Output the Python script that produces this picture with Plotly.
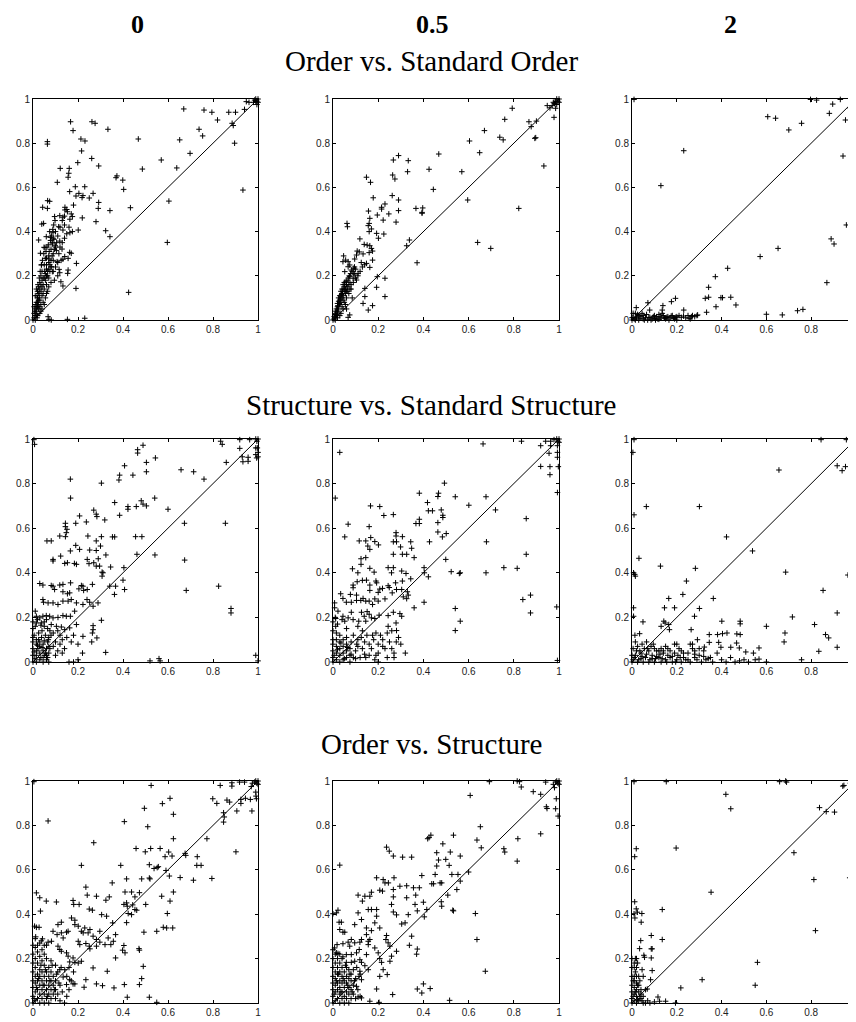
import plotly.graph_objects as go

COLUMN_LABELS = ["0", "0.5", "2"]
ROW_TITLES = ["Order vs. Standard Order", "Structure vs. Standard Structure", "Order vs. Structure"]
TICK_VALS = [0, 0.2, 0.4, 0.6, 0.8, 1]
TICK_TEXT = ["0", "0.2", "0.4", "0.6", "0.8", "1"]
DIAG = [0, 1]

# Row 1: Order vs. Standard Order
ORD_STD_0 = [
    (1.0, 1.0), (0.995, 0.99), (0.99, 1.0), (1.0, 0.985), (0.985, 0.995), (0.99, 0.99), (0.98, 0.985),
    (0.995, 0.975), (0.96, 0.985), (0.948, 0.988), (0.67, 0.955), (0.76, 0.95), (0.795, 0.94), (0.82, 0.905),
    (0.87, 0.94), (0.90, 0.94), (0.94, 0.953), (0.885, 0.89), (0.89, 0.88), (0.738, 0.863), (0.754, 0.833),
    (0.896, 0.80), (0.652, 0.815), (0.698, 0.754), (0.57, 0.724), (0.639, 0.688), (0.933, 0.588),
    (0.604, 0.538), (0.597, 0.351), (0.425, 0.125), (0.468, 0.819), (0.486, 0.683), (0.167, 0.897),
    (0.262, 0.897), (0.276, 0.89), (0.333, 0.863), (0.178, 0.857), (0.213, 0.819), (0.231, 0.81),
    (0.064, 0.807), (0.064, 0.796), (0.216, 0.765), (0.261, 0.731), (0.199, 0.712), (0.292, 0.697),
    (0.121, 0.686), (0.161, 0.686), (0.159, 0.664), (0.156, 0.646), (0.373, 0.652), (0.369, 0.644),
    (0.399, 0.633), (0.403, 0.591), (0.108, 0.623), (0.188, 0.603), (0.23, 0.603), (0.163, 0.581),
    (0.204, 0.573), (0.222, 0.563), (0.191, 0.561), (0.218, 0.554), (0.25, 0.552), (0.267, 0.573),
    (0.292, 0.532), (0.29, 0.505), (0.342, 0.495), (0.433, 0.508), (0.065, 0.54), (0.074, 0.537),
    (0.043, 0.51), (0.064, 0.505), (0.142, 0.51), (0.096, 0.468), (0.119, 0.472), (0.133, 0.465),
    (0.142, 0.498), (0.153, 0.49), (0.164, 0.456), (0.175, 0.468), (0.219, 0.462), (0.28, 0.445),
    (0.039, 0.434), (0.047, 0.437), (0.074, 0.40), (0.089, 0.395), (0.114, 0.422), (0.133, 0.407),
    (0.164, 0.395), (0.175, 0.40), (0.201, 0.407), (0.323, 0.404), (0.342, 0.377), (0.025, 0.362),
    (0.059, 0.377), (0.077, 0.374), (0.093, 0.365), (0.119, 0.357), (0.086, 0.344), (0.099, 0.336),
    (0.049, 0.329), (0.053, 0.327), (0.104, 0.314), (0.129, 0.321), (0.163, 0.306), (0.17, 0.302),
    (0.141, 0.287), (0.033, 0.302), (0.055, 0.279), (0.071, 0.276), (0.107, 0.264), (0.133, 0.275),
    (0.156, 0.279), (0.154, 0.211), (0.156, 0.226), (0.193, 0.256), (0.119, 0.214), (0.124, 0.173),
    (0.133, 0.154), (0.191, 0.143), (0.116, 0.229), (0.037, 0.249), (0.081, 0.241), (0.086, 0.219),
    (0.067, 0.015), (0.071, 0.003), (0.081, 0.0), (0.153, 0.003), (0.23, 0.008),
    (0.005, 0.01), (0.01, 0.02), (0.01, 0.05), (0.015, 0.08), (0.02, 0.10), (0.02, 0.13), (0.025, 0.15),
    (0.03, 0.12), (0.03, 0.17), (0.035, 0.20), (0.04, 0.18), (0.04, 0.22), (0.045, 0.16), (0.05, 0.19),
    (0.05, 0.25), (0.055, 0.21), (0.06, 0.23), (0.06, 0.28), (0.065, 0.20), (0.07, 0.26), (0.075, 0.22),
    (0.08, 0.17), (0.02, 0.06), (0.03, 0.09), (0.04, 0.11), (0.05, 0.14), (0.045, 0.12), (0.025, 0.05),
    (0.01, 0.0), (0.0, 0.0), (0.005, 0.03), (0.015, 0.04), (0.02, 0.02), (0.03, 0.03), (0.035, 0.07),
    (0.04, 0.05), (0.06, 0.16), (0.065, 0.13), (0.07, 0.19), (0.08, 0.24), (0.09, 0.27), (0.01, 0.11),
    (0.015, 0.14), (0.02, 0.08), (0.025, 0.12), (0.03, 0.14), (0.035, 0.16), (0.04, 0.15), (0.045, 0.19),
    (0.055, 0.18), (0.06, 0.20), (0.065, 0.22), (0.07, 0.23), (0.075, 0.25), (0.08, 0.27), (0.085, 0.29),
    (0.09, 0.30), (0.095, 0.32), (0.10, 0.33), (0.105, 0.35), (0.06, 0.25), (0.07, 0.29), (0.08, 0.32),
    (0.085, 0.35), (0.09, 0.37), (0.10, 0.40), (0.11, 0.38), (0.12, 0.42), (0.13, 0.45), (0.14, 0.47),
    (0.15, 0.50), (0.115, 0.30), (0.12, 0.33), (0.13, 0.35), (0.14, 0.37), (0.15, 0.39), (0.14, 0.43),
    (0.16, 0.42), (0.17, 0.48), (0.18, 0.52), (0.11, 0.26), (0.125, 0.27), (0.09, 0.22), (0.10, 0.24),
    (0.11, 0.20), (0.095, 0.18), (0.03, 0.06), (0.015, 0.02), (0.005, 0.06), (0.045, 0.08), (0.055, 0.10),
    (0.05, 0.07), (0.06, 0.12), (0.07, 0.15), (0.035, 0.04), (0.025, 0.09), (0.012, 0.03), (0.018, 0.01),
    (0.012, 0.07), (0.018, 0.11), (0.022, 0.16), (0.028, 0.19), (0.032, 0.22), (0.038, 0.25),
    (0.042, 0.27), (0.048, 0.30), (0.052, 0.22), (0.058, 0.31), (0.062, 0.33), (0.068, 0.34),
    (0.072, 0.31), (0.078, 0.36), (0.082, 0.38), (0.088, 0.41), (0.092, 0.43), (0.098, 0.45),
    (0.008, 0.04), (0.016, 0.06), (0.024, 0.07), (0.028, 0.10), (0.036, 0.13),
]

ORD_STD_05 = [
    (1.0, 1.0), (0.995, 0.99), (0.99, 1.0), (1.0, 0.985), (0.985, 0.99), (0.98, 0.98), (0.99, 0.975),
    (0.97, 0.97), (0.975, 0.985), (0.96, 0.96), (0.793, 0.958), (0.76, 0.908), (0.67, 0.857), (0.738, 0.827),
    (0.753, 0.815), (0.604, 0.81), (0.649, 0.757), (0.867, 0.897), (0.877, 0.875), (0.90, 0.90),
    (0.893, 0.822), (0.897, 0.825), (0.978, 0.917), (0.948, 0.97), (0.985, 0.958), (0.933, 0.697),
    (0.822, 0.505), (0.596, 0.543), (0.57, 0.671), (0.64, 0.351), (0.698, 0.324), (0.29, 0.744),
    (0.333, 0.721), (0.267, 0.724), (0.425, 0.682), (0.468, 0.751), (0.444, 0.591), (0.33, 0.671),
    (0.264, 0.656), (0.274, 0.638), (0.148, 0.646), (0.166, 0.623), (0.178, 0.553), (0.262, 0.563),
    (0.23, 0.525), (0.215, 0.51), (0.215, 0.502), (0.196, 0.475), (0.29, 0.543), (0.29, 0.495),
    (0.247, 0.48), (0.279, 0.443), (0.222, 0.452), (0.367, 0.505), (0.397, 0.507), (0.394, 0.487),
    (0.394, 0.483), (0.157, 0.493), (0.163, 0.46), (0.16, 0.437), (0.156, 0.427), (0.17, 0.412),
    (0.16, 0.40), (0.193, 0.392), (0.201, 0.37), (0.225, 0.389), (0.062, 0.437), (0.064, 0.422),
    (0.119, 0.367), (0.138, 0.342), (0.151, 0.339), (0.163, 0.336), (0.17, 0.324), (0.175, 0.312),
    (0.16, 0.305), (0.107, 0.312), (0.116, 0.308), (0.104, 0.294), (0.096, 0.276), (0.175, 0.271),
    (0.163, 0.238), (0.148, 0.256), (0.133, 0.299), (0.047, 0.29), (0.056, 0.271), (0.067, 0.264),
    (0.074, 0.249), (0.067, 0.241), (0.044, 0.264), (0.092, 0.234), (0.081, 0.226), (0.096, 0.208),
    (0.111, 0.211), (0.074, 0.196), (0.089, 0.189), (0.104, 0.181), (0.052, 0.219), (0.196, 0.196),
    (0.23, 0.189), (0.193, 0.148), (0.23, 0.106), (0.141, 0.143), (0.141, 0.106), (0.133, 0.075),
    (0.156, 0.045), (0.175, 0.065), (0.074, 0.023), (0.067, 0.012), (0.326, 0.336), (0.338, 0.362),
    (0.372, 0.259),
    (0.005, 0.005), (0.01, 0.01), (0.01, 0.03), (0.015, 0.02), (0.02, 0.04), (0.02, 0.06), (0.025, 0.05),
    (0.03, 0.07), (0.03, 0.09), (0.035, 0.08), (0.04, 0.10), (0.04, 0.12), (0.045, 0.11), (0.05, 0.13),
    (0.05, 0.15), (0.055, 0.14), (0.06, 0.16), (0.035, 0.13), (0.045, 0.16), (0.025, 0.10), (0.04, 0.06),
    (0.05, 0.08), (0.06, 0.10), (0.07, 0.12), (0.065, 0.15), (0.07, 0.16), (0.075, 0.17), (0.06, 0.05),
    (0.055, 0.07), (0.08, 0.14), (0.085, 0.10), (0.03, 0.02), (0.02, 0.01), (0.01, 0.0), (0.0, 0.0),
    (0.015, 0.05), (0.03, 0.11), (0.04, 0.14), (0.05, 0.17), (0.025, 0.085), (0.035, 0.105),
    (0.045, 0.09), (0.055, 0.12), (0.065, 0.13), (0.075, 0.14), (0.08, 0.16), (0.09, 0.17), (0.1, 0.19),
    (0.11, 0.2), (0.12, 0.22), (0.13, 0.24), (0.14, 0.25), (0.125, 0.26), (0.1, 0.23), (0.09, 0.21),
    (0.06, 0.13), (0.045, 0.05), (0.035, 0.03), (0.005, 0.015), (0.012, 0.04), (0.02, 0.075),
    (0.012, 0.025), (0.018, 0.035), (0.022, 0.065), (0.028, 0.075), (0.032, 0.095), (0.038, 0.115),
    (0.042, 0.13), (0.048, 0.14), (0.052, 0.16), (0.058, 0.175), (0.062, 0.18), (0.068, 0.19),
    (0.072, 0.20), (0.078, 0.21), (0.085, 0.22), (0.095, 0.24),
]

ORD_STD_2 = [
    (0.009, 0.998), (0.797, 0.998), (0.824, 0.995), (0.93, 0.998), (0.896, 0.977), (0.881, 0.935),
    (0.953, 0.905), (0.98, 0.893), (0.975, 0.958), (0.99, 0.988), (1.0, 1.0), (0.995, 0.99), (0.99, 1.0),
    (1.0, 0.98), (0.606, 0.92), (0.641, 0.913), (0.70, 0.86), (0.757, 0.89), (0.942, 0.742),
    (0.987, 0.674), (0.957, 0.43), (0.889, 0.367), (0.902, 0.344), (0.87, 0.169), (0.231, 0.766),
    (0.129, 0.608), (0.652, 0.324), (0.572, 0.287), (0.427, 0.234), (0.372, 0.196), (0.342, 0.148),
    (0.327, 0.098), (0.342, 0.103), (0.397, 0.101), (0.404, 0.101), (0.441, 0.103), (0.464, 0.068),
    (0.375, 0.06), (0.333, 0.035), (0.194, 0.098), (0.176, 0.083), (0.138, 0.065), (0.135, 0.045),
    (0.231, 0.045), (0.071, 0.078), (0.079, 0.045), (0.019, 0.056), (0.60, 0.026), (0.671, 0.023),
    (0.739, 0.042), (0.763, 0.048), (0.293, 0.023),
    (0.0, 0.0), (0.01, 0.005), (0.02, 0.01), (0.03, 0.0), (0.04, 0.015), (0.05, 0.005), (0.06, 0.01),
    (0.07, 0.0), (0.08, 0.012), (0.09, 0.005), (0.10, 0.008), (0.11, 0.015), (0.12, 0.003), (0.13, 0.01),
    (0.14, 0.02), (0.15, 0.005), (0.16, 0.015), (0.17, 0.01), (0.18, 0.02), (0.19, 0.005), (0.20, 0.015),
    (0.21, 0.02), (0.22, 0.012), (0.23, 0.018), (0.25, 0.02), (0.26, 0.005), (0.27, 0.02), (0.28, 0.015),
    (0.29, 0.02), (0.005, 0.03), (0.015, 0.03), (0.025, 0.025), (0.03, 0.02), (0.045, 0.03), (0.05, 0.02),
    (0.065, 0.025), (0.10, 0.02), (0.12, 0.025), (0.135, 0.03), (0.005, 0.012), (0.035, 0.008),
    (0.055, 0.0), (0.075, 0.01), (0.085, 0.0), (0.095, 0.015), (0.105, 0.0), (0.115, 0.005),
    (0.125, 0.015), (0.145, 0.008), (0.155, 0.012), (0.165, 0.0), (0.175, 0.018), (0.185, 0.008),
    (0.195, 0.012), (0.24, 0.01), (0.255, 0.008), (0.265, 0.015), (0.2, 0.0), (0.0, 0.01), (0.015, 0.0),
]

# Row 2: Structure vs. Standard Structure
STR_STD_0 = [
    (0.004, 0.997), (0.007, 0.976), (1.0, 1.0), (0.995, 0.99), (0.99, 1.0), (0.99, 0.96), (1.0, 0.94),
    (1.0, 0.92), (0.99, 0.93), (0.834, 0.99), (0.841, 0.976), (0.919, 0.997), (0.963, 0.997),
    (0.919, 0.958), (0.93, 0.92), (0.956, 0.90), (0.933, 0.898), (0.956, 0.918), (0.997, 0.96),
    (0.994, 0.915), (0.859, 0.895), (0.658, 0.862), (0.714, 0.853), (0.76, 0.82), (0.489, 0.972),
    (0.465, 0.952), (0.465, 0.937), (0.504, 0.895), (0.504, 0.853), (0.544, 0.915), (0.407, 0.88),
    (0.444, 0.838), (0.385, 0.838), (0.382, 0.816), (0.304, 0.802), (0.166, 0.82), (0.167, 0.735),
    (0.481, 0.723), (0.489, 0.708), (0.504, 0.70), (0.459, 0.697), (0.541, 0.735), (0.422, 0.697),
    (0.422, 0.685), (0.385, 0.658), (0.363, 0.715), (0.27, 0.681), (0.281, 0.663), (0.284, 0.652),
    (0.237, 0.628), (0.207, 0.655), (0.319, 0.637), (0.60, 0.685), (0.673, 0.622), (0.855, 0.622),
    (0.144, 0.622), (0.144, 0.607), (0.151, 0.595), (0.148, 0.58), (0.19, 0.622), (0.119, 0.565),
    (0.144, 0.562), (0.244, 0.565), (0.304, 0.562), (0.353, 0.561), (0.363, 0.561), (0.456, 0.562),
    (0.484, 0.562), (0.062, 0.543), (0.081, 0.543), (0.19, 0.523), (0.207, 0.505), (0.166, 0.498),
    (0.252, 0.502), (0.281, 0.543), (0.281, 0.50), (0.30, 0.52), (0.324, 0.48), (0.462, 0.483),
    (0.542, 0.48), (0.674, 0.457), (0.681, 0.321), (0.089, 0.46), (0.089, 0.453), (0.123, 0.475),
    (0.141, 0.442), (0.153, 0.445), (0.184, 0.442), (0.193, 0.438), (0.241, 0.46), (0.249, 0.441),
    (0.27, 0.445), (0.281, 0.43), (0.29, 0.463), (0.296, 0.43), (0.307, 0.403), (0.311, 0.40),
    (0.307, 0.385), (0.345, 0.426), (0.404, 0.423), (0.40, 0.367), (0.407, 0.325), (0.367, 0.34),
    (0.341, 0.34), (0.362, 0.303), (0.03, 0.352), (0.044, 0.345), (0.081, 0.343), (0.089, 0.34),
    (0.119, 0.345), (0.133, 0.348), (0.167, 0.355), (0.096, 0.325), (0.133, 0.315), (0.153, 0.306),
    (0.163, 0.31), (0.215, 0.343), (0.222, 0.34), (0.204, 0.328), (0.225, 0.321), (0.241, 0.325),
    (0.264, 0.348), (0.044, 0.28), (0.047, 0.268), (0.067, 0.265), (0.089, 0.265), (0.111, 0.258),
    (0.133, 0.273), (0.156, 0.273), (0.17, 0.28), (0.193, 0.265), (0.222, 0.258), (0.24, 0.28),
    (0.252, 0.268), (0.267, 0.25), (0.289, 0.265), (0.01, 0.228), (0.015, 0.205), (0.03, 0.198),
    (0.044, 0.205), (0.059, 0.208), (0.074, 0.205), (0.089, 0.198), (0.111, 0.20), (0.133, 0.208),
    (0.148, 0.205), (0.166, 0.205), (0.185, 0.228), (0.015, 0.175), (0.037, 0.175), (0.081, 0.168),
    (0.104, 0.16), (0.126, 0.157), (0.141, 0.145), (0.163, 0.153), (0.193, 0.168), (0.222, 0.115),
    (0.267, 0.163), (0.267, 0.145), (0.264, 0.13), (0.261, 0.09), (0.284, 0.108), (0.304, 0.187),
    (0.323, 0.043), (0.0, 0.0), (0.0, 0.03), (0.0, 0.06), (0.0, 0.09), (0.0, 0.11), (0.015, 0.0),
    (0.015, 0.03), (0.015, 0.05), (0.015, 0.08), (0.015, 0.10), (0.03, 0.01), (0.03, 0.04), (0.03, 0.07),
    (0.03, 0.09), (0.045, 0.0), (0.045, 0.02), (0.045, 0.05), (0.045, 0.08), (0.06, 0.01), (0.06, 0.03),
    (0.06, 0.06), (0.065, 0.09), (0.07, 0.0), (0.07, 0.04), (0.075, 0.06), (0.005, 0.12), (0.025, 0.13),
    (0.04, 0.14), (0.055, 0.12), (0.09, 0.07), (0.10, 0.09), (0.11, 0.05), (0.12, 0.08), (0.13, 0.10),
    (0.14, 0.06), (0.15, 0.11), (0.10, 0.03), (0.13, 0.04), (0.16, 0.0), (0.18, 0.0), (0.20, 0.01),
    (0.22, 0.04), (0.20, 0.08), (0.18, 0.12), (0.17, 0.09), (0.08, 0.12), (0.09, 0.13), (0.11, 0.14),
    (0.12, 0.12), (0.52, 0.005), (0.56, 0.015), (0.565, 0.005), (0.99, 0.03), (1.0, 0.005),
    (0.88, 0.24), (0.88, 0.22), (0.825, 0.34), (0.008, 0.015), (0.022, 0.06), (0.038, 0.11),
    (0.052, 0.03), (0.068, 0.1), (0.05, 0.16), (0.065, 0.15),
    (0.005, 0.045), (0.02, 0.075), (0.025, 0.10), (0.035, 0.02), (0.04, 0.065), (0.05, 0.095),
    (0.055, 0.04), (0.065, 0.02), (0.07, 0.07), (0.0, 0.15), (0.0, 0.18), (0.01, 0.16), (0.02, 0.19),
    (0.035, 0.165), (0.05, 0.18), (0.06, 0.19), (0.07, 0.11), (0.075, 0.14),
]

STR_STD_05 = [
    (0.03, 0.94), (0.01, 0.735), (0.664, 0.978), (0.834, 0.99), (0.919, 0.97), (0.941, 0.99),
    (0.963, 0.99), (0.978, 0.997), (0.963, 0.97), (0.993, 0.97), (0.993, 0.94), (0.993, 0.918),
    (0.997, 0.876), (0.919, 0.877), (0.96, 0.876), (0.96, 0.84), (0.956, 0.936), (0.993, 0.76),
    (1.0, 1.0), (0.995, 0.99), (0.99, 1.0), (1.0, 0.985), (0.493, 0.802), (0.467, 0.757), (0.464, 0.742),
    (0.541, 0.741), (0.382, 0.757), (0.418, 0.715), (0.422, 0.678), (0.44, 0.678), (0.479, 0.682),
    (0.486, 0.658), (0.486, 0.648), (0.382, 0.64), (0.367, 0.621), (0.382, 0.621), (0.464, 0.625),
    (0.464, 0.583), (0.501, 0.576), (0.484, 0.561), (0.427, 0.539), (0.601, 0.703), (0.677, 0.741),
    (0.719, 0.682), (0.166, 0.70), (0.207, 0.697), (0.225, 0.657), (0.267, 0.661), (0.067, 0.618),
    (0.16, 0.607), (0.052, 0.561), (0.116, 0.543), (0.145, 0.543), (0.167, 0.558), (0.185, 0.54),
    (0.201, 0.525), (0.154, 0.52), (0.163, 0.505), (0.279, 0.58), (0.279, 0.565), (0.267, 0.539),
    (0.281, 0.539), (0.307, 0.562), (0.299, 0.516), (0.344, 0.539), (0.348, 0.51), (0.359, 0.468),
    (0.326, 0.483), (0.307, 0.483), (0.267, 0.483), (0.679, 0.539), (0.499, 0.46), (0.523, 0.405),
    (0.559, 0.397), (0.563, 0.40), (0.756, 0.423), (0.815, 0.42), (0.677, 0.40), (0.855, 0.483),
    (0.855, 0.643), (0.874, 0.30), (0.84, 0.28), (0.874, 0.22), (0.99, 0.247), (0.993, 0.007),
    (0.124, 0.463), (0.145, 0.468), (0.124, 0.438), (0.086, 0.418), (0.11, 0.40), (0.163, 0.42),
    (0.182, 0.403), (0.19, 0.363), (0.193, 0.355), (0.244, 0.423), (0.267, 0.423), (0.259, 0.40),
    (0.304, 0.408), (0.323, 0.397), (0.307, 0.363), (0.277, 0.355), (0.344, 0.373), (0.403, 0.423),
    (0.404, 0.40), (0.422, 0.382), (0.359, 0.243), (0.403, 0.268), (0.541, 0.24), (0.563, 0.183),
    (0.541, 0.141), (0.089, 0.345), (0.089, 0.333), (0.107, 0.36), (0.13, 0.366), (0.148, 0.367),
    (0.163, 0.345), (0.163, 0.321), (0.207, 0.327), (0.20, 0.312), (0.219, 0.33), (0.244, 0.342),
    (0.249, 0.334), (0.281, 0.325), (0.262, 0.31), (0.23, 0.283), (0.304, 0.325), (0.329, 0.315),
    (0.333, 0.30), (0.311, 0.292), (0.326, 0.284), (0.034, 0.306), (0.044, 0.285), (0.059, 0.268),
    (0.077, 0.303), (0.081, 0.268), (0.104, 0.30), (0.104, 0.276), (0.123, 0.276), (0.133, 0.285),
    (0.145, 0.273), (0.16, 0.273), (0.185, 0.283), (0.20, 0.273), (0.175, 0.258), (0.007, 0.265),
    (0.007, 0.243), (0.012, 0.195), (0.012, 0.16), (0.022, 0.228), (0.044, 0.205), (0.052, 0.183),
    (0.067, 0.198), (0.081, 0.223), (0.089, 0.19), (0.114, 0.183), (0.126, 0.223), (0.138, 0.205),
    (0.145, 0.183), (0.151, 0.226), (0.16, 0.214), (0.17, 0.198), (0.185, 0.195), (0.204, 0.21),
    (0.244, 0.208), (0.267, 0.223), (0.296, 0.217), (0.304, 0.205), (0.279, 0.175), (0.281, 0.141),
    (0.244, 0.16), (0.0, 0.0), (0.0, 0.02), (0.0, 0.05), (0.0, 0.08), (0.0, 0.10), (0.0, 0.14),
    (0.015, 0.01), (0.015, 0.04), (0.015, 0.07), (0.015, 0.10), (0.015, 0.13), (0.03, 0.0), (0.03, 0.03),
    (0.03, 0.06), (0.03, 0.09), (0.03, 0.12), (0.045, 0.01), (0.045, 0.04), (0.045, 0.07), (0.045, 0.10),
    (0.06, 0.02), (0.06, 0.05), (0.06, 0.08), (0.06, 0.11), (0.06, 0.15), (0.075, 0.0), (0.075, 0.03),
    (0.075, 0.06), (0.08, 0.09), (0.09, 0.12), (0.09, 0.02), (0.10, 0.05), (0.105, 0.08), (0.11, 0.10),
    (0.12, 0.02), (0.13, 0.06), (0.14, 0.09), (0.15, 0.12), (0.16, 0.03), (0.17, 0.06), (0.18, 0.10),
    (0.19, 0.13), (0.20, 0.08), (0.20, 0.04), (0.21, 0.12), (0.22, 0.10), (0.23, 0.06), (0.24, 0.13),
    (0.25, 0.09), (0.26, 0.14), (0.27, 0.04), (0.28, 0.09), (0.30, 0.08), (0.32, 0.04), (0.29, 0.11),
    (0.27, 0.02), (0.20, 0.0), (0.185, 0.01), (0.145, 0.02), (0.13, 0.14), (0.11, 0.16),
    (0.005, 0.03), (0.02, 0.055), (0.035, 0.085), (0.05, 0.015), (0.065, 0.065), (0.08, 0.035),
    (0.10, 0.015), (0.11, 0.07), (0.125, 0.11), (0.14, 0.035), (0.16, 0.08), (0.175, 0.12),
    (0.19, 0.03), (0.22, 0.07), (0.24, 0.02), (0.26, 0.06), (0.0, 0.18), (0.01, 0.20), (0.02, 0.17),
    (0.04, 0.19),
]

STR_STD_2 = [
    (0.009, 0.997), (0.004, 0.94), (0.009, 0.66), (0.064, 0.697), (0.301, 0.697), (0.031, 0.465),
    (0.007, 0.40), (0.012, 0.393), (0.015, 0.385), (0.007, 0.243), (0.007, 0.205), (0.013, 0.12),
    (0.034, 0.127), (0.049, 0.18), (0.422, 0.561), (0.538, 0.498), (0.656, 0.861), (0.686, 0.403),
    (0.844, 0.997), (0.957, 0.997), (0.987, 0.997), (1.0, 1.0), (0.995, 0.985), (0.916, 0.88),
    (0.938, 0.858), (0.953, 0.876), (0.964, 0.39), (0.853, 0.321), (0.916, 0.22), (0.716, 0.202),
    (0.815, 0.168), (0.864, 0.123), (0.878, 0.108), (0.834, 0.048), (0.916, 0.066), (0.683, 0.13),
    (0.679, 0.09), (0.757, 0.01), (0.60, 0.16), (0.997, 0.685), (0.997, 0.557), (0.997, 0.078),
    (0.994, 0.033), (0.127, 0.43), (0.243, 0.363), (0.283, 0.42), (0.164, 0.285), (0.227, 0.303),
    (0.363, 0.285), (0.279, 0.205), (0.301, 0.24), (0.19, 0.243), (0.145, 0.243), (0.142, 0.183),
    (0.148, 0.175), (0.167, 0.145), (0.164, 0.168), (0.13, 0.16), (0.264, 0.145), (0.292, 0.10),
    (0.401, 0.183), (0.483, 0.183), (0.483, 0.171), (0.404, 0.127), (0.424, 0.13), (0.468, 0.126),
    (0.483, 0.123), (0.345, 0.123), (0.382, 0.123), (0.467, 0.085), (0.345, 0.088), (0.387, 0.088),
    (0.323, 0.067), (0.397, 0.066), (0.441, 0.066), (0.479, 0.063), (0.508, 0.045), (0.542, 0.04),
    (0.567, 0.063), (0.567, 0.013),
    (0.0, 0.0), (0.01, 0.02), (0.02, 0.05), (0.03, 0.01), (0.04, 0.04), (0.05, 0.0), (0.06, 0.02),
    (0.07, 0.06), (0.08, 0.01), (0.09, 0.03), (0.10, 0.0), (0.11, 0.05), (0.12, 0.02), (0.13, 0.0),
    (0.14, 0.04), (0.15, 0.01), (0.16, 0.06), (0.17, 0.02), (0.18, 0.0), (0.19, 0.04), (0.20, 0.01),
    (0.21, 0.06), (0.22, 0.0), (0.23, 0.02), (0.24, 0.01), (0.25, 0.04), (0.26, 0.0), (0.27, 0.06),
    (0.28, 0.02), (0.29, 0.01), (0.30, 0.03), (0.31, 0.0), (0.32, 0.05), (0.33, 0.01), (0.35, 0.02),
    (0.36, 0.0), (0.38, 0.04), (0.40, 0.01), (0.42, 0.0), (0.44, 0.02), (0.46, 0.0), (0.48, 0.005),
    (0.50, 0.01), (0.52, 0.0), (0.55, 0.01), (0.60, 0.0), (0.005, 0.06), (0.015, 0.09), (0.025, 0.07),
    (0.035, 0.05), (0.045, 0.08), (0.055, 0.06), (0.065, 0.09), (0.075, 0.05), (0.085, 0.07),
    (0.095, 0.08), (0.10, 0.06), (0.12, 0.05), (0.13, 0.06), (0.14, 0.05), (0.15, 0.07), (0.17, 0.05),
    (0.19, 0.08), (0.20, 0.08), (0.22, 0.05), (0.26, 0.08), (0.27, 0.08), (0.28, 0.05), (0.30, 0.06),
    (0.015, 0.03), (0.04, 0.015), (0.065, 0.035), (0.09, 0.015), (0.11, 0.025), (0.135, 0.015),
    (0.16, 0.03), (0.18, 0.025), (0.205, 0.03), (0.23, 0.04), (0.25, 0.01), (0.28, 0.035),
    (0.32, 0.025), (0.34, 0.015), (0.0, 0.03), (0.005, 0.01), (0.025, 0.0), (0.045, 0.025),
    (0.075, 0.0), (0.105, 0.015), (0.125, 0.035), (0.155, 0.0), (0.195, 0.0), (0.215, 0.02),
]

# Row 3: Order vs. Structure
ORD_STR_0 = [
    (0.004, 0.997), (1.0, 1.0), (0.995, 0.99), (0.99, 1.0), (1.0, 0.985), (0.985, 0.995), (0.975, 0.99),
    (0.97, 0.975), (0.832, 0.98), (0.884, 0.992), (0.884, 0.977), (0.918, 0.995), (0.94, 0.995),
    (0.847, 0.857), (0.85, 0.838), (0.847, 0.815), (0.799, 0.92), (0.817, 0.899), (0.862, 0.914),
    (0.874, 0.905), (0.906, 0.865), (0.924, 0.899), (0.924, 0.917), (0.944, 0.922), (0.966, 0.917),
    (0.991, 0.932), (0.993, 0.92), (0.99, 0.95), (0.973, 0.865), (0.902, 0.681), (0.795, 0.561),
    (0.773, 0.74), (0.525, 0.98), (0.575, 0.898), (0.609, 0.922), (0.495, 0.877), (0.51, 0.794),
    (0.406, 0.817), (0.624, 0.85), (0.624, 0.74), (0.458, 0.696), (0.523, 0.696), (0.565, 0.696),
    (0.499, 0.681), (0.603, 0.68), (0.618, 0.662), (0.587, 0.659), (0.676, 0.674), (0.679, 0.665),
    (0.728, 0.62), (0.747, 0.62), (0.73, 0.659), (0.713, 0.553), (0.654, 0.565), (0.591, 0.597),
    (0.606, 0.572), (0.557, 0.614), (0.552, 0.61), (0.517, 0.623), (0.538, 0.606), (0.483, 0.559),
    (0.52, 0.559), (0.517, 0.563), (0.39, 0.62), (0.416, 0.559), (0.215, 0.62), (0.27, 0.722),
    (0.067, 0.82), (0.235, 0.522), (0.352, 0.541), (0.282, 0.481), (0.241, 0.486), (0.324, 0.463),
    (0.339, 0.478), (0.409, 0.50), (0.438, 0.50), (0.473, 0.497), (0.453, 0.478), (0.416, 0.451),
    (0.404, 0.444), (0.419, 0.436), (0.443, 0.442), (0.453, 0.421), (0.461, 0.418), (0.438, 0.398),
    (0.423, 0.403), (0.416, 0.362), (0.501, 0.444), (0.493, 0.319), (0.55, 0.323), (0.579, 0.341),
    (0.594, 0.338), (0.621, 0.338), (0.597, 0.403), (0.609, 0.459), (0.624, 0.50), (0.572, 0.481),
    (0.015, 0.496), (0.03, 0.474), (0.033, 0.414), (0.059, 0.459), (0.104, 0.455), (0.178, 0.462),
    (0.181, 0.444), (0.205, 0.444), (0.25, 0.423), (0.264, 0.418), (0.305, 0.398), (0.327, 0.391),
    (0.354, 0.361), (0.367, 0.308), (0.404, 0.259), (0.398, 0.238), (0.409, 0.226), (0.367, 0.203),
    (0.471, 0.245), (0.473, 0.238), (0.49, 0.165), (0.483, 0.11), (0.473, 0.083), (0.406, 0.083),
    (0.36, 0.068), (0.309, 0.078), (0.282, 0.086), (0.33, 0.143), (0.267, 0.158), (0.235, 0.105),
    (0.227, 0.071), (0.186, 0.086), (0.149, 0.083), (0.419, 0.026), (0.517, 0.026), (0.55, 0.003),
    (0.007, 0.346), (0.015, 0.341), (0.027, 0.341), (0.012, 0.298), (0.042, 0.289), (0.037, 0.28),
    (0.067, 0.274), (0.082, 0.278), (0.089, 0.323), (0.107, 0.308), (0.111, 0.353), (0.126, 0.364),
    (0.126, 0.316), (0.134, 0.293), (0.149, 0.319), (0.156, 0.323), (0.171, 0.383), (0.186, 0.373),
    (0.186, 0.353), (0.201, 0.346), (0.215, 0.323), (0.223, 0.316), (0.23, 0.338), (0.245, 0.316),
    (0.253, 0.331), (0.267, 0.301), (0.282, 0.286), (0.297, 0.323), (0.297, 0.274), (0.32, 0.263),
    (0.334, 0.293), (0.346, 0.263), (0.357, 0.278), (0.201, 0.278), (0.208, 0.263), (0.235, 0.268),
    (0.25, 0.256), (0.253, 0.244), (0.282, 0.256), (0.111, 0.256), (0.119, 0.241), (0.126, 0.233),
    (0.149, 0.226), (0.156, 0.211), (0.178, 0.203), (0.186, 0.183), (0.163, 0.185), (0.201, 0.18),
    (0.215, 0.188), (0.141, 0.15), (0.119, 0.15), (0.134, 0.117), (0.163, 0.105), (0.178, 0.086),
    (0.0, 0.0), (0.0, 0.03), (0.0, 0.07), (0.0, 0.10), (0.0, 0.14), (0.0, 0.18), (0.0, 0.22),
    (0.01, 0.01), (0.01, 0.05), (0.01, 0.09), (0.01, 0.12), (0.01, 0.16), (0.01, 0.20), (0.01, 0.25),
    (0.02, 0.02), (0.02, 0.06), (0.02, 0.10), (0.02, 0.13), (0.02, 0.18), (0.02, 0.26), (0.03, 0.0),
    (0.03, 0.04), (0.03, 0.08), (0.03, 0.12), (0.03, 0.15), (0.03, 0.21), (0.04, 0.02), (0.04, 0.06),
    (0.04, 0.10), (0.04, 0.14), (0.04, 0.19), (0.05, 0.0), (0.05, 0.04), (0.05, 0.08), (0.05, 0.12),
    (0.05, 0.17), (0.05, 0.22), (0.06, 0.02), (0.06, 0.06), (0.06, 0.10), (0.06, 0.14), (0.06, 0.20),
    (0.07, 0.0), (0.07, 0.04), (0.07, 0.08), (0.07, 0.12), (0.07, 0.16), (0.08, 0.02), (0.08, 0.06),
    (0.08, 0.10), (0.08, 0.14), (0.08, 0.19), (0.09, 0.04), (0.09, 0.08), (0.09, 0.12), (0.10, 0.02),
    (0.10, 0.06), (0.10, 0.10), (0.10, 0.17), (0.11, 0.04), (0.11, 0.14), (0.12, 0.08), (0.12, 0.01),
    (0.13, 0.05), (0.14, 0.0), (0.15, 0.03), (0.16, 0.06), (0.15, 0.12), (0.17, 0.10), (0.18, 0.14),
    (0.16, 0.16),
    (0.005, 0.02), (0.015, 0.07), (0.025, 0.11), (0.035, 0.17), (0.045, 0.08), (0.055, 0.15),
    (0.065, 0.03), (0.075, 0.10), (0.085, 0.17), (0.095, 0.06), (0.105, 0.13), (0.115, 0.09),
    (0.125, 0.16), (0.0, 0.26), (0.01, 0.29), (0.02, 0.23), (0.03, 0.27), (0.04, 0.24), (0.05, 0.26),
    (0.06, 0.26),
]

ORD_STR_05 = [
    (1.0, 1.0), (0.995, 0.99), (0.99, 1.0), (1.0, 0.985), (0.985, 0.995), (0.975, 0.985), (0.98, 0.97),
    (0.692, 0.997), (0.815, 1.0), (0.825, 0.997), (0.941, 0.995), (0.833, 0.973), (0.886, 0.952),
    (0.919, 0.94), (0.944, 0.884), (0.947, 0.876), (0.988, 0.92), (0.985, 0.875), (0.996, 0.842),
    (0.607, 0.935), (0.652, 0.794), (0.637, 0.734), (0.656, 0.699), (0.818, 0.74), (0.815, 0.639),
    (0.919, 0.762), (0.756, 0.695), (0.76, 0.68), (0.533, 0.756), (0.486, 0.717), (0.419, 0.74),
    (0.425, 0.745), (0.433, 0.756), (0.519, 0.68), (0.459, 0.677), (0.499, 0.647), (0.467, 0.644),
    (0.459, 0.617), (0.514, 0.62), (0.563, 0.662), (0.553, 0.579), (0.526, 0.579), (0.452, 0.579),
    (0.437, 0.537), (0.445, 0.537), (0.474, 0.541), (0.481, 0.541), (0.393, 0.574), (0.382, 0.519),
    (0.366, 0.486), (0.40, 0.454), (0.415, 0.421), (0.363, 0.444), (0.373, 0.415), (0.404, 0.388),
    (0.479, 0.456), (0.481, 0.436), (0.508, 0.486), (0.53, 0.418), (0.533, 0.415), (0.548, 0.511),
    (0.563, 0.549), (0.60, 0.59), (0.63, 0.403), (0.637, 0.286), (0.674, 0.143), (0.237, 0.702),
    (0.249, 0.684), (0.267, 0.662), (0.308, 0.657), (0.348, 0.657), (0.03, 0.621), (0.193, 0.564),
    (0.222, 0.556), (0.23, 0.541), (0.245, 0.541), (0.27, 0.564), (0.207, 0.508), (0.219, 0.504),
    (0.267, 0.511), (0.296, 0.526), (0.326, 0.528), (0.326, 0.474), (0.356, 0.519), (0.333, 0.398),
    (0.319, 0.361), (0.267, 0.478), (0.259, 0.444), (0.267, 0.41), (0.281, 0.397), (0.304, 0.356),
    (0.338, 0.26), (0.348, 0.301), (0.373, 0.243), (0.37, 0.22), (0.111, 0.486), (0.141, 0.481),
    (0.163, 0.481), (0.13, 0.459), (0.17, 0.499), (0.156, 0.421), (0.17, 0.421), (0.193, 0.421),
    (0.193, 0.391), (0.185, 0.361), (0.111, 0.406), (0.126, 0.376), (0.096, 0.353), (0.148, 0.338),
    (0.17, 0.326), (0.207, 0.338), (0.237, 0.304), (0.234, 0.286), (0.244, 0.271), (0.252, 0.256),
    (0.281, 0.233), (0.259, 0.211), (0.252, 0.188), (0.215, 0.183), (0.207, 0.20), (0.20, 0.226),
    (0.222, 0.15), (0.207, 0.12), (0.24, 0.128), (0.148, 0.308), (0.156, 0.278), (0.156, 0.263),
    (0.163, 0.286), (0.185, 0.248), (0.148, 0.218), (0.022, 0.418), (0.015, 0.406), (0.027, 0.364),
    (0.037, 0.364), (0.03, 0.331), (0.044, 0.319), (0.052, 0.319), (0.018, 0.263), (0.007, 0.248),
    (0.015, 0.226), (0.022, 0.223), (0.044, 0.267), (0.067, 0.274), (0.074, 0.256), (0.081, 0.286),
    (0.096, 0.271), (0.119, 0.274), (0.126, 0.286), (0.116, 0.241), (0.104, 0.226), (0.081, 0.218),
    (0.059, 0.218), (0.044, 0.208), (0.059, 0.183), (0.081, 0.183), (0.096, 0.188), (0.119, 0.195),
    (0.126, 0.183), (0.141, 0.168), (0.119, 0.143), (0.156, 0.15), (0.126, 0.105), (0.104, 0.075),
    (0.111, 0.027), (0.126, 0.023), (0.163, 0.008), (0.204, 0.003), (0.264, 0.038), (0.193, 0.063),
    (0.373, 0.063), (0.40, 0.086), (0.43, 0.065), (0.393, 0.045), (0.516, 0.012), (0.0, 0.402),
    (0.0, 0.0), (0.0, 0.03), (0.0, 0.06), (0.0, 0.09), (0.0, 0.12), (0.0, 0.16), (0.0, 0.2),
    (0.01, 0.01), (0.01, 0.05), (0.01, 0.08), (0.01, 0.11), (0.01, 0.14), (0.01, 0.18), (0.02, 0.02),
    (0.02, 0.06), (0.02, 0.09), (0.02, 0.13), (0.02, 0.16), (0.03, 0.0), (0.03, 0.04), (0.03, 0.07),
    (0.03, 0.1), (0.03, 0.14), (0.03, 0.18), (0.04, 0.02), (0.04, 0.05), (0.04, 0.09), (0.04, 0.12),
    (0.04, 0.16), (0.05, 0.0), (0.05, 0.03), (0.05, 0.07), (0.05, 0.1), (0.05, 0.14), (0.06, 0.02),
    (0.06, 0.05), (0.06, 0.09), (0.06, 0.12), (0.06, 0.16), (0.07, 0.0), (0.07, 0.04), (0.07, 0.07),
    (0.07, 0.11), (0.07, 0.15), (0.08, 0.02), (0.08, 0.06), (0.08, 0.1), (0.08, 0.13), (0.09, 0.04),
    (0.09, 0.08), (0.09, 0.15), (0.1, 0.02), (0.1, 0.11), (0.11, 0.06), (0.12, 0.13), (0.12, 0.03),
    (0.005, 0.04), (0.015, 0.10), (0.025, 0.13), (0.035, 0.05), (0.045, 0.11), (0.055, 0.17),
    (0.065, 0.08), (0.075, 0.13), (0.085, 0.05), (0.095, 0.10), (0.105, 0.16), (0.115, 0.12),
    (0.0, 0.24), (0.01, 0.22), (0.02, 0.20), (0.03, 0.22), (0.04, 0.20),
]

ORD_STR_2 = [
    (0.009, 0.997), (0.153, 0.997), (0.659, 0.997), (0.686, 1.0), (0.69, 0.995), (1.0, 1.0),
    (0.995, 0.99), (0.99, 1.0), (1.0, 0.985), (0.985, 0.995), (0.975, 0.99), (0.941, 0.977),
    (0.946, 0.98), (0.419, 0.94), (0.441, 0.875), (0.837, 0.88), (0.867, 0.862), (0.904, 0.86),
    (0.723, 0.677), (0.812, 0.556), (0.972, 0.564), (0.994, 0.597), (0.994, 0.386), (0.991, 0.358),
    (0.819, 0.326), (0.56, 0.183), (0.55, 0.08), (0.313, 0.105), (0.218, 0.068), (0.194, 0.0),
    (0.197, 0.698), (0.353, 0.499), (0.135, 0.421), (0.135, 0.286), (0.039, 0.281), (0.012, 0.456),
    (0.012, 0.659), (0.019, 0.695), (0.009, 0.402), (0.013, 0.383), (0.019, 0.424), (0.024, 0.409),
    (0.044, 0.403), (0.041, 0.364), (0.034, 0.245), (0.053, 0.215), (0.056, 0.206), (0.086, 0.304),
    (0.086, 0.244), (0.09, 0.244), (0.086, 0.203), (0.09, 0.146), (0.083, 0.105), (0.068, 0.063),
    (0.116, 0.027), (0.123, 0.008), (0.15, 0.008), (0.10, 0.005),
    (0.0, 0.0), (0.0, 0.02), (0.0, 0.05), (0.0, 0.08), (0.0, 0.12), (0.0, 0.16), (0.0, 0.20),
    (0.01, 0.01), (0.01, 0.04), (0.01, 0.07), (0.01, 0.10), (0.01, 0.12), (0.01, 0.16), (0.01, 0.18),
    (0.02, 0.0), (0.02, 0.03), (0.02, 0.06), (0.02, 0.09), (0.02, 0.12), (0.02, 0.16), (0.02, 0.20),
    (0.03, 0.01), (0.03, 0.05), (0.03, 0.08), (0.03, 0.12), (0.04, 0.02), (0.04, 0.04), (0.04, 0.06),
    (0.05, 0.0), (0.05, 0.03), (0.05, 0.12), (0.06, 0.0), (0.06, 0.06), (0.07, 0.01), (0.08, 0.0),
    (0.015, 0.14), (0.025, 0.18), (0.035, 0.10), (0.045, 0.15), (0.015, 0.20), (0.005, 0.10),
    (0.005, 0.03), (0.025, 0.015), (0.035, 0.03), (0.045, 0.01), (0.015, 0.05), (0.025, 0.08),
]

PANELS = [
    [ORD_STD_0, ORD_STD_05, ORD_STD_2],
    [STR_STD_0, STR_STD_05, STR_STD_2],
    [ORD_STR_0, ORD_STR_05, ORD_STR_2],
]

# The page body has an 8px margin, so the figure is offset by 8px; work in window pixels.
OFF = 8
W, H = 856 - OFF, 1022 - OFF
COL_X = [(33, 258), (333, 559), (632, 856)]
ROW_Y = [(99, 320), (439, 662), (781, 1003)]
COL_LABEL_X = [137, 433, 730]
COL_LABEL_Y = 25
ROW_TITLE_X = 431
ROW_TITLE_Y = [61, 405, 744]


def px_x(v):
    return (v - OFF) / W


def px_y(v):
    return 1 - (v - OFF) / H


fig = go.Figure()
axis_style = dict(
    range=[0, 1], tickvals=TICK_VALS, ticktext=TICK_TEXT, ticks="inside", ticklen=3,
    tickwidth=1, tickcolor="black", showline=True, linecolor="black", linewidth=1,
    mirror="ticks", showgrid=False, zeroline=False, fixedrange=True,
    tickfont=dict(family="Liberation Sans, Arial, sans-serif", size=10, color="#222"),
)

n = 0
for r in range(3):
    for c in range(3):
        n += 1
        suffix = "" if n == 1 else str(n)
        xa, ya = "x" + suffix, "y" + suffix
        pts = PANELS[r][c]
        fig.add_trace(go.Scatter(
            x=[p[0] for p in pts], y=[p[1] for p in pts], mode="markers",
            marker=dict(symbol="cross-thin", size=4, line=dict(width=1, color="black"), color="black"),
            xaxis=xa, yaxis=ya, showlegend=False, cliponaxis=False, hoverinfo="x+y",
        ))
        fig.add_trace(go.Scatter(
            x=DIAG, y=DIAG, mode="lines", line=dict(color="black", width=1),
            xaxis=xa, yaxis=ya, showlegend=False, hoverinfo="skip",
        ))
        x0, x1 = COL_X[c]
        y0, y1 = ROW_Y[r]
        fig.layout["xaxis" + suffix] = dict(axis_style, domain=[px_x(x0), min(px_x(x1), 1.0)], anchor=ya)
        fig.layout["yaxis" + suffix] = dict(axis_style, domain=[px_y(y1), px_y(y0)], anchor=xa)

annotations = []
for c, lab in enumerate(COLUMN_LABELS):
    annotations.append(dict(
        text="<b>" + lab + "</b>", x=px_x(COL_LABEL_X[c]), y=px_y(COL_LABEL_Y), xref="paper", yref="paper",
        showarrow=False, xanchor="center", yanchor="middle",
        font=dict(family="Liberation Serif, Times New Roman, serif", size=26, color="black"),
    ))
for r, title in enumerate(ROW_TITLES):
    annotations.append(dict(
        text=title, x=px_x(ROW_TITLE_X), y=px_y(ROW_TITLE_Y[r]), xref="paper", yref="paper",
        showarrow=False, xanchor="center", yanchor="middle",
        font=dict(family="Liberation Serif, Times New Roman, serif", size=29, color="black"),
    ))

fig.update_layout(
    width=W, height=H, autosize=False, margin=dict(l=0, r=0, t=0, b=0, autoexpand=False),
    paper_bgcolor="white", plot_bgcolor="white", annotations=annotations,
)

fig.write_html("out.html")
